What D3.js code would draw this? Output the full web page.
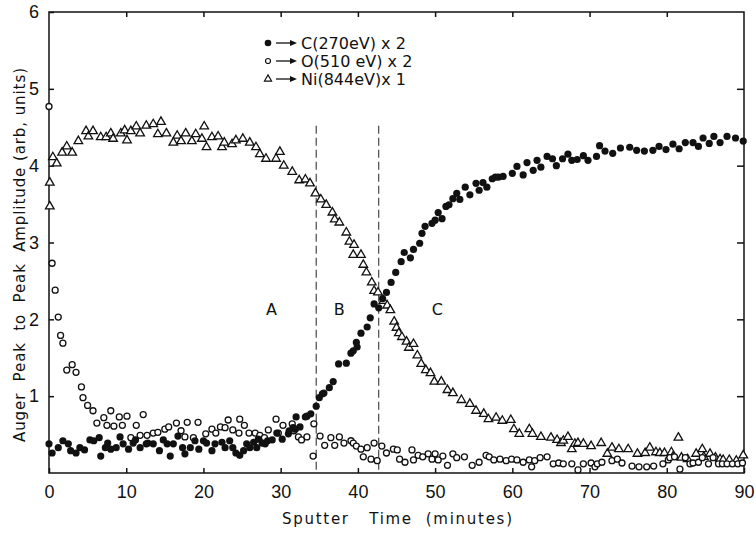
<!DOCTYPE html>
<html>
<head>
<meta charset="utf-8">
<script src="https://cdn.jsdelivr.net/npm/d3@7"></script>
<style>
body { margin: 0; background: #fff; }
svg { display: block; font-family: "DejaVu Sans", sans-serif; }
</style>
</head>
<body>
<svg id="chart" width="755" height="534"></svg>
<script>
var carbon = [
	[0.0,.38],[0.4,.26],[1.2,.33],[1.8,.42],[2.5,.38],[2.8,.29],[3.5,.26],[4.0,.33],[4.6,.30],[5.3,.43],
	[5.8,.42],[6.5,.46],[6.7,.22],[7.3,.33],[7.6,.39],[8.0,.31],[8.7,.33],[9.2,.47],[9.6,.38],[10.3,.31],
	[10.9,.39],[11.2,.43],[11.8,.33],[12.6,.38],[12.8,.39],[13.5,.38],[14.3,.29],[14.8,.43],[15.3,.38],[15.7,.22],
	[16.1,.38],[16.7,.48],[17.3,.33],[17.6,.25],[18.3,.33],[18.9,.42],[19.4,.31],[20.0,.42],[20.4,.39],[21.1,.29],
	[21.5,.38],[22.4,.40],[22.8,.33],[23.4,.42],[23.8,.33],[24.2,.26],[24.7,.23],[25.2,.29],[25.6,.38],[26.0,.33],
	[26.5,.40],[26.9,.33],[27.1,.44],[27.6,.39],[28.0,.38],[28.3,.42],[28.9,.43],[29.5,.52],[30.2,.44],[31.0,.51],
	[31.1,.55],[31.6,.59],[31.9,.57],[32.0,.73],[32.5,.60],[33.2,.73],[33.4,.74],[33.9,.77],[34.6,.87],[35.0,.98],
	[35.4,1.03],[35.6,1.04],[36.3,1.11],[36.8,1.19],[37.5,1.42],[38.5,1.43],[39.1,1.56],[39.4,1.59],[39.8,1.70],[39.9,1.64],
	[40.4,1.82],[41.2,1.90],[41.6,2.02],[42.1,2.20],[42.7,2.15],[43.2,2.27],[43.7,2.35],[44.3,2.48],[44.9,2.61],[45.6,2.75],
	[46.0,2.87],[46.8,2.80],[47.2,2.91],[48.0,2.99],[48.3,3.12],[48.7,3.21],[49.6,3.25],[50.0,3.29],[50.4,3.39],[50.9,3.31],
	[51.4,3.47],[51.8,3.49],[52.3,3.57],[52.8,3.64],[53.2,3.56],[53.9,3.72],[54.5,3.62],[55.3,3.77],[55.7,3.68],[56.2,3.78],
	[56.7,3.72],[57.4,3.83],[57.8,3.85],[58.2,3.85],[58.8,3.86],[60.0,3.90],[60.6,3.99],[61.4,3.88],[61.9,4.04],[62.7,3.94],
	[63.2,4.07],[63.7,3.98],[64.5,4.12],[65.2,4.09],[65.7,4.00],[66.5,4.09],[67.2,4.15],[67.7,4.07],[68.4,4.08],[69.2,4.13],
	[69.8,4.07],[70.9,4.12],[71.3,4.26],[72.0,4.19],[73.0,4.16],[74.0,4.23],[75.2,4.24],[76.1,4.20],[77.1,4.19],[78.2,4.20],
	[79.0,4.25],[79.9,4.21],[80.8,4.28],[81.6,4.22],[82.4,4.30],[83.4,4.30],[84.1,4.25],[84.7,4.36],[85.5,4.29],[86.1,4.38],
	[86.9,4.30],[87.8,4.38],[88.9,4.36],[89.9,4.32]
];

var oxygen = [
	[0.0,4.77],[0.4,2.73],[0.8,2.38],[1.2,2.03],[1.5,1.79],[1.8,1.69],[2.3,1.34],[3.0,1.41],[3.5,1.31],[4.2,1.12],
	[4.4,.98],[5.0,.88],[5.7,.81],[6.2,.65],[7.1,.72],[7.5,.62],[8.0,.81],[8.4,.61],[9.1,.73],[9.5,.62],
	[10.1,.74],[10.6,.46],[11.3,.62],[11.8,.49],[12.2,.76],[12.7,.49],[13.5,.52],[14.1,.53],[15.0,.57],[15.5,.60],
	[16.5,.65],[17.1,.55],[17.6,.47],[17.9,.66],[18.7,.46],[19.3,.66],[20.3,.51],[21.1,.57],[21.6,.52],[22.2,.60],
	[22.8,.59],[23.2,.69],[23.8,.56],[24.6,.52],[24.7,.70],[25.3,.62],[25.9,.52],[26.7,.52],[27.3,.49],[27.9,.46],
	[28.4,.56],[29.4,.70],[29.7,.52],[30.3,.62],[31.5,.64],[31.7,.55],[32.3,.47],[32.7,.43],[33.4,.47],[34.2,.22],
	[34.3,.64],[35.1,.48],[35.7,.36],[36.5,.46],[37.0,.36],[37.6,.47],[38.2,.39],[39.1,.42],[39.4,.39],[39.8,.35],
	[40.4,.31],[40.7,.21],[41.2,.33],[41.7,.18],[42.1,.39],[42.5,.16],[43.1,.35],[43.7,.26],[44.6,.31],[45.1,.30],
	[45.4,.18],[46.1,.14],[47.0,.30],[47.2,.17],[47.8,.23],[48.4,.21],[49.1,.25],[49.6,.18],[50.0,.25],[50.4,.17],
	[51.0,.22],[51.6,.10],[52.3,.25],[52.8,.20],[53.8,.21],[54.8,.10],[55.7,.14],[56.6,.23],[57.0,.21],[57.6,.17],
	[58.4,.18],[59.2,.16],[59.9,.18],[60.6,.17],[61.4,.14],[62.2,.17],[62.5,.08],[62.9,.16],[63.6,.20],[64.5,.21],
	[65.3,.12],[66.0,.13],[66.6,.12],[67.7,.12],[68.5,.04],[69.2,.12],[70.2,.13],[70.7,.08],[71.0,.12],[71.6,.14],
	[72.9,.16],[73.6,.18],[74.2,.13],[75.5,.09],[76.4,.08],[77.4,.08],[78.3,.09],[79.5,.12],[80.2,.17],[80.4,.20],
	[81.0,.21],[81.7,.05],[82.4,.20],[83.0,.12],[83.4,.13],[84.1,.14],[84.6,.20],[85.4,.12],[86.0,.20],[86.7,.12],
	[87.2,.12],[87.8,.12],[88.5,.12],[89.2,.12],[89.8,.13]
];

var nickel = [
	[0.1,3.47],[0.1,3.78],[0.5,4.11],[1.0,4.03],[1.7,4.17],[2.3,4.25],[3.0,4.17],[3.8,4.32],[4.8,4.45],[5.1,4.38],
	[5.7,4.45],[6.7,4.37],[7.4,4.37],[8.0,4.42],[8.3,4.35],[9.3,4.42],[9.8,4.46],[10.1,4.33],[10.6,4.45],[11.3,4.51],
	[11.8,4.42],[12.6,4.52],[13.5,4.54],[14.1,4.41],[14.5,4.57],[15.2,4.42],[16.1,4.30],[16.6,4.39],[17.1,4.32],[17.7,4.42],
	[18.5,4.32],[19.0,4.41],[19.8,4.35],[20.1,4.51],[20.4,4.24],[21.1,4.37],[21.9,4.38],[22.4,4.24],[22.7,4.30],[23.7,4.28],
	[24.2,4.33],[25.1,4.35],[26.0,4.30],[26.8,4.24],[27.3,4.15],[28.1,4.09],[29.4,4.09],[29.9,4.18],[30.4,4.00],[31.5,3.92],
	[32.4,3.81],[33.2,3.82],[33.8,3.77],[34.5,3.64],[35.2,3.56],[35.9,3.49],[36.7,3.39],[37.0,3.30],[37.6,3.26],[38.5,3.13],
	[38.9,3.01],[39.4,2.84],[39.5,2.97],[40.4,2.84],[40.7,2.71],[41.1,2.61],[41.8,2.48],[42.1,2.37],[42.6,2.35],[43.3,2.24],
	[43.8,2.18],[44.2,2.12],[44.7,1.97],[45.0,1.89],[45.3,1.82],[45.7,1.77],[46.3,1.71],[46.6,1.63],[47.2,1.68],[47.7,1.53],
	[48.2,1.42],[48.8,1.34],[49.4,1.30],[49.9,1.19],[50.8,1.19],[51.6,1.08],[52.3,1.04],[53.4,0.95],[54.5,0.90],[55.3,0.81],
	[56.3,0.77],[56.9,0.70],[57.9,0.72],[58.7,0.68],[59.8,0.69],[60.2,0.57],[60.9,0.51],[62.2,0.57],[62.6,0.51],[63.7,0.47],
	[65.0,0.46],[65.8,0.43],[66.3,0.39],[66.6,0.42],[67.2,0.47],[67.7,0.31],[68.1,0.38],[68.5,0.39],[69.2,0.38],[70.2,0.35],
	[71.5,0.39],[72.3,0.25],[72.9,0.33],[73.8,0.31],[75.0,0.31],[76.2,0.25],[77.2,0.26],[77.8,0.33],[78.6,0.27],[79.1,0.26],
	[79.7,0.26],[80.6,0.27],[80.8,0.21],[81.5,0.46],[81.9,0.20],[82.7,0.18],[83.8,0.25],[84.6,0.31],[84.8,0.21],[85.6,0.25],
	[86.3,0.20],[86.9,0.18],[87.3,0.17],[88.1,0.17],[89.0,0.16],[89.9,0.23]
];

var xTicks = [0, 10, 20, 30, 40, 50, 60, 70, 80, 90];
var yTicks = [1, 2, 3, 4, 5, 6];
var boundaries = [34.6, 42.7];
var regions = [{name: "A", t: 28.8}, {name: "B", t: 37.6}, {name: "C", t: 50.3}];
var regionLevel = 2.13;
var legendLabels = ["C(270eV) x 2", "O(510 eV) x 2", "Ni(844eV)x 1"];

var svg = d3.select("#chart");
var margin = {top: 12, right: 11, bottom: 61, left: 49};
var w = 755 - margin.left - margin.right;
var h = 534 - margin.top - margin.bottom;

var x = d3.scaleLinear().domain([0, 90]).range([margin.left, margin.left + w]);
var y = d3.scaleLinear().domain([0, 6]).range([margin.top + h, margin.top]);

// frame
svg.append("rect")
	.attr("x", x(0)).attr("y", y(6))
	.attr("width", x(90) - x(0)).attr("height", y(0) - y(6))
	.attr("fill", "none").attr("stroke", "#111").attr("stroke-width", 1.5);

// axes, ticks pointing inward
var tickStyle = function(g){
	g.select(".domain").remove();
	g.selectAll("line").attr("stroke", "#111").attr("stroke-width", 1.5);
	g.selectAll("text").attr("fill", "#111").style("font-size", "18px");
};
svg.append("g").attr("transform", "translate(0," + y(0) + ")")
	.call(d3.axisBottom(x).tickValues(xTicks).tickSizeInner(-5).tickSizeOuter(0).tickPadding(12).tickFormat(d3.format("d")))
	.call(tickStyle);
svg.append("g").attr("transform", "translate(0," + y(6) + ")")
	.call(d3.axisTop(x).tickValues(xTicks.slice(1, -1)).tickSizeInner(-5).tickSizeOuter(0).tickFormat(""))
	.call(tickStyle);
svg.append("g").attr("transform", "translate(" + x(0) + ",0)")
	.call(d3.axisLeft(y).tickValues(yTicks).tickSizeInner(-5).tickSizeOuter(0).tickPadding(10).tickFormat(d3.format("d")))
	.call(tickStyle);
svg.append("g").attr("transform", "translate(" + x(90) + ",0)")
	.call(d3.axisRight(y).tickValues(yTicks.slice(0, -1)).tickSizeInner(-7).tickSizeOuter(0).tickFormat(""))
	.call(tickStyle);

// dashed region boundaries
svg.selectAll("line.boundary").data(boundaries).enter().append("line")
	.attr("class", "boundary")
	.attr("x1", function(d){ return x(d); }).attr("x2", function(d){ return x(d); })
	.attr("y1", y(4.52)).attr("y2", y(0))
	.attr("stroke", "#222").attr("stroke-width", 1)
	.attr("stroke-dasharray", "8,4");

svg.selectAll("text.region").data(regions).enter().append("text")
	.attr("class", "region")
	.attr("x", function(d){ return x(d.t); })
	.attr("y", y(regionLevel))
	.attr("text-anchor", "middle").attr("dy", "0.36em")
	.style("font-size", "16px").attr("fill", "#111")
	.text(function(d){ return d.name; });

// markers
var tri = d3.symbol().type(d3.symbolTriangle).size(32);

svg.append("g").selectAll("path").data(nickel).enter().append("path")
	.attr("d", tri)
	.attr("transform", function(d){ return "translate(" + x(d[0]) + "," + y(d[1]) + ")"; })
	.attr("fill", "#fff").attr("stroke", "#111").attr("stroke-width", 1.3);

svg.append("g").selectAll("circle").data(oxygen).enter().append("circle")
	.attr("cx", function(d){ return x(d[0]); })
	.attr("cy", function(d){ return y(d[1]); })
	.attr("r", 3)
	.attr("fill", "#fff").attr("stroke", "#111").attr("stroke-width", 1.3);

svg.append("g").selectAll("circle").data(carbon).enter().append("circle")
	.attr("cx", function(d){ return x(d[0]); })
	.attr("cy", function(d){ return y(d[1]); })
	.attr("r", 3.6)
	.attr("fill", "#111");

// legend
var legend = svg.append("g").attr("transform", "translate(268,43)");
legendLabels.forEach(function(label, i){
	var row = legend.append("g").attr("transform", "translate(0," + (i * 18) + ")");
	if(i == 0){
		row.append("circle").attr("r", 3.3).attr("fill", "#111");
	} else if(i == 1){
		row.append("circle").attr("r", 2.5).attr("fill", "#fff").attr("stroke", "#111").attr("stroke-width", 1.2);
	} else {
		row.append("path").attr("d", d3.symbol().type(d3.symbolTriangle).size(22)).attr("fill", "#fff").attr("stroke", "#111").attr("stroke-width", 1.2);
	}
	row.append("line").attr("x1", 8).attr("x2", 24).attr("y1", 0).attr("y2", 0).attr("stroke", "#111").attr("stroke-width", 1.3);
	row.append("path").attr("d", "M22,-3L29,0L22,3Z").attr("fill", "#111");
	row.append("text").attr("x", 33).attr("y", 0).attr("dy", "0.36em")
		.style("font-size", "16px").attr("fill", "#111").text(label);
});

// axis titles
svg.append("text")
	.attr("x", 282).attr("y", 524)
	.attr("textLength", 230).attr("lengthAdjust", "spacing")
	.style("font-size", "15px").style("white-space", "pre").attr("fill", "#111")
	.text("Sputter   Time  (minutes)");

svg.append("text")
	.attr("transform", "translate(25,442) rotate(-90)")
	.attr("x", 0).attr("y", 0)
	.attr("textLength", 374).attr("lengthAdjust", "spacing")
	.style("font-size", "15px").style("white-space", "pre").attr("fill", "#111")
	.text("Auger  Peak  to  Peak  Amplitude (arb, units)");
</script>
</body>
</html>
